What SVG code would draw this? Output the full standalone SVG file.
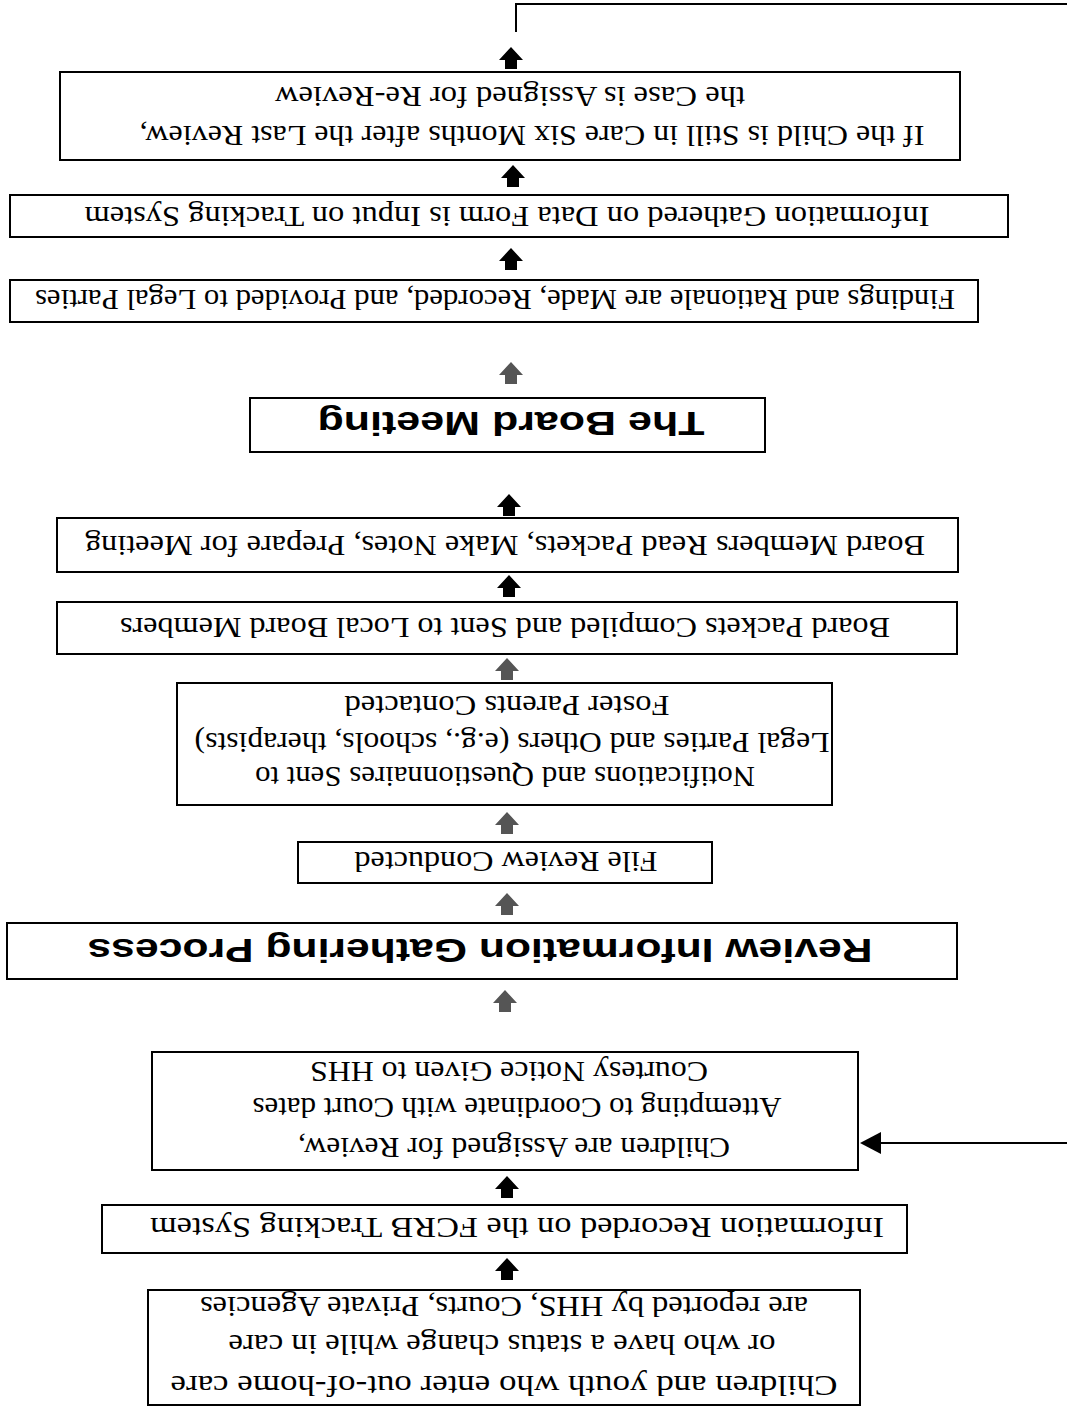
<svg xmlns="http://www.w3.org/2000/svg" xmlns:xlink="http://www.w3.org/1999/xlink" width="1067" height="1408" viewBox="0 0 1067 1408">
<style>
.box{fill:#fff;stroke:#000;stroke-width:2}
.t{font-family:"Liberation Serif","Times New Roman",serif;font-size:30px;fill:#000;text-anchor:middle}
.h{font-family:"Liberation Sans",Arial,sans-serif;font-size:34px;font-weight:bold;fill:#000;text-anchor:middle}
.ln{fill:none;stroke:#000;stroke-width:2}
.ab{fill:#000}
.ag{fill:#555}
</style>
<defs>
<path id="arr" d="M0,0 L12,13 L6,13 L6,22 L-6,22 L-6,13 L-12,13 Z"/>
</defs>
<rect width="1067" height="1408" fill="#fff"/>
<g id="connectors">
<use xlink:href="#arr" class="ab" x="507" y="1258"/>
<use xlink:href="#arr" class="ab" x="507" y="1176"/>
<use xlink:href="#arr" class="ag" x="505" y="990"/>
<use xlink:href="#arr" class="ag" x="507" y="893"/>
<use xlink:href="#arr" class="ag" x="507" y="812"/>
<use xlink:href="#arr" class="ag" x="507" y="658"/>
<use xlink:href="#arr" class="ab" x="509" y="575"/>
<use xlink:href="#arr" class="ab" x="509" y="494"/>
<use xlink:href="#arr" class="ag" x="511" y="362"/>
<use xlink:href="#arr" class="ab" x="511" y="248"/>
<use xlink:href="#arr" class="ab" x="513" y="165"/>
<use xlink:href="#arr" class="ab" x="511" y="47"/>
<polyline class="ln" points="516,32 516,4 1067,4"/>
<line class="ln" x1="1067" y1="1143" x2="878" y2="1143"/>
<path class="ab" d="M860,1143 L881,1132 L881,1154 Z"/>
</g>
<g id="n1">
<rect class="box" x="148" y="1290" width="712" height="115"/>
<g transform="rotate(180 504 1386)"><text class="t" x="504" y="1396" textLength="667" lengthAdjust="spacingAndGlyphs">Children and youth who enter out-of-home care</text></g>
<g transform="rotate(180 502 1345)"><text class="t" x="502" y="1355" textLength="547" lengthAdjust="spacingAndGlyphs">or who have a status change while in care</text></g>
<g transform="rotate(180 504 1307)"><text class="t" x="504" y="1317" textLength="608" lengthAdjust="spacingAndGlyphs">are reported by HHS, Courts, Private Agencies</text></g>
</g>
<g id="n2">
<rect class="box" x="102" y="1205" width="805" height="48"/>
<g transform="rotate(180 517 1228)"><text class="t" x="517" y="1238" textLength="734" lengthAdjust="spacingAndGlyphs">Information Recorded on the FCRB Tracking System</text></g>
</g>
<g id="n3">
<rect class="box" x="152" y="1052" width="706" height="118"/>
<g transform="rotate(180 514 1148)"><text class="t" x="514" y="1158" textLength="432" lengthAdjust="spacingAndGlyphs">Children are Assigned for Review,</text></g>
<g transform="rotate(180 517 1108)"><text class="t" x="517" y="1118" textLength="529" lengthAdjust="spacingAndGlyphs">Attempting to Coordinate with Court dates</text></g>
<g transform="rotate(180 509 1072)"><text class="t" x="509" y="1082" textLength="398" lengthAdjust="spacingAndGlyphs">Courtesy Notice Given to HHS</text></g>
</g>
<g id="n4">
<rect class="box" x="7" y="923" width="950" height="56"/>
<g transform="rotate(180 480 951)"><text class="h" x="480" y="963" textLength="785" lengthAdjust="spacingAndGlyphs">Review Information Gathering Process</text></g>
</g>
<g id="n5">
<rect class="box" x="298" y="842" width="414" height="41"/>
<g transform="rotate(180 506 862)"><text class="t" x="506" y="872" textLength="303" lengthAdjust="spacingAndGlyphs">File Review Conducted</text></g>
</g>
<g id="n6">
<rect class="box" x="177" y="683" width="655" height="122"/>
<g transform="rotate(180 505 777)"><text class="t" x="505" y="787" textLength="500" lengthAdjust="spacingAndGlyphs">Notifications and Questionnaires Sent to</text></g>
<g transform="rotate(180 512 743)"><text class="t" x="512" y="753" textLength="635" lengthAdjust="spacingAndGlyphs">Legal Parties and Others (e.g., schools, therapists)</text></g>
<g transform="rotate(180 507 706)"><text class="t" x="507" y="716" textLength="325" lengthAdjust="spacingAndGlyphs">Foster Parents Contacted</text></g>
</g>
<g id="n7">
<rect class="box" x="57" y="602" width="900" height="52"/>
<g transform="rotate(180 505 628)"><text class="t" x="505" y="638" textLength="770" lengthAdjust="spacingAndGlyphs">Board Packets Compiled and Sent to Local Board Members</text></g>
</g>
<g id="n8">
<rect class="box" x="57" y="518" width="901" height="54"/>
<g transform="rotate(180 505 546)"><text class="t" x="505" y="556" textLength="840" lengthAdjust="spacingAndGlyphs">Board Members Read Packets, Make Notes, Prepare for Meeting</text></g>
</g>
<g id="n9">
<rect class="box" x="250" y="398" width="515" height="54"/>
<g transform="rotate(180 511 424)"><text class="h" x="511" y="436" textLength="387" lengthAdjust="spacingAndGlyphs">The Board Meeting</text></g>
</g>
<g id="n10">
<rect class="box" x="10" y="280" width="968" height="42"/>
<g transform="rotate(180 495 300)"><text class="t" x="495" y="310" textLength="920" lengthAdjust="spacingAndGlyphs">Findings and Rationale are Made, Recorded, and Provided to Legal Parties</text></g>
</g>
<g id="n11">
<rect class="box" x="10" y="195" width="998" height="42"/>
<g transform="rotate(180 507 217)"><text class="t" x="507" y="227" textLength="845" lengthAdjust="spacingAndGlyphs">Information Gathered on Data Form is Input on Tracking System</text></g>
</g>
<g id="n12">
<rect class="box" x="60" y="72" width="900" height="88"/>
<g transform="rotate(180 532 136)"><text class="t" x="532" y="146" textLength="785" lengthAdjust="spacingAndGlyphs">If the Child is Still in Care Six Months after the Last Review,</text></g>
<g transform="rotate(180 510 97)"><text class="t" x="510" y="107" textLength="470" lengthAdjust="spacingAndGlyphs">the Case is Assigned for Re-Review</text></g>
</g>
</svg>
